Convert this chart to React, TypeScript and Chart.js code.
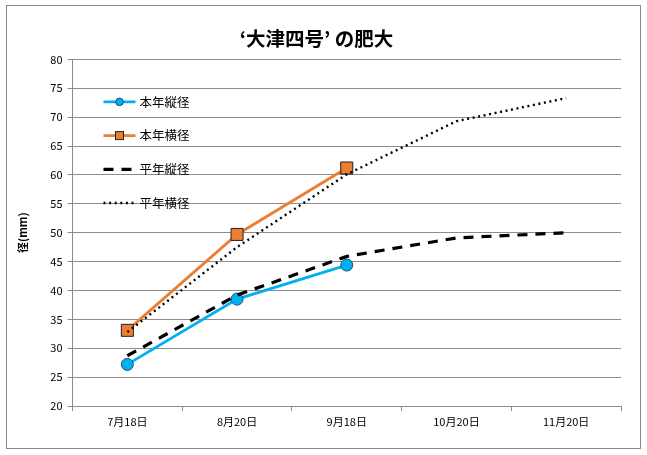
import React, { useEffect, useRef } from "react";
import { Chart, registerables } from "chart.js";

Chart.register(...registerables);

const categories = ["7月18日", "8月20日", "9月18日", "10月20日", "11月20日"];
const seriesNames = ["本年縦径", "本年横径", "平年縦径", "平年横径"];
const honenTate = [27.2, 38.5, 44.4, null, null];
const honenYoko = [33.1, 49.7, 61.2, null, null];
const heinenTate = [28.7, 39.2, 45.9, 49.1, 50.0];
const heinenYoko = [32.8, 47.5, 60.1, 69.3, 73.3];
const yTicks = [20, 25, 30, 35, 40, 45, 50, 55, 60, 65, 70, 75, 80];
const chartTitle = "‘大津四号’ の肥大";
const yTitle = "径(mm)";

const FONT = "'Noto Sans CJK JP', 'Noto Sans', sans-serif";

const insideLegend = {
  id: "insideLegend",
  afterDraw(chart: any) {
    const { ctx, chartArea } = chart;
    const x0 = chartArea.left + 31;
    const y0 = chartArea.top + 42.5;
    const step = 33.7;
    chart.data.datasets.forEach((ds: any, i: number) => {
      const y = y0 + i * step;
      ctx.save();
      ctx.strokeStyle = ds.borderColor;
      ctx.lineWidth = ds.borderWidth;
      ctx.setLineDash(ds.borderDash || []);
      ctx.beginPath();
      ctx.moveTo(x0, y);
      ctx.lineTo(x0 + 32, y);
      ctx.stroke();
      ctx.setLineDash([]);
      const cx = x0 + 16;
      if (ds.pointStyle === "circle" && ds.pointRadius > 0) {
        ctx.beginPath();
        ctx.arc(cx, y, 3.8, 0, Math.PI * 2);
        ctx.fillStyle = ds.pointBackgroundColor;
        ctx.fill();
        ctx.lineWidth = 1;
        ctx.strokeStyle = ds.pointBorderColor;
        ctx.stroke();
      } else if (ds.pointStyle === "rect" && ds.pointRadius > 0) {
        ctx.fillStyle = ds.pointBackgroundColor;
        ctx.fillRect(cx - 4, y - 4, 8, 8);
        ctx.lineWidth = 1;
        ctx.strokeStyle = ds.pointBorderColor;
        ctx.strokeRect(cx - 4, y - 4, 8, 8);
      }
      ctx.fillStyle = "#000";
      ctx.font = `12.5px ${FONT}`;
      ctx.textBaseline = "middle";
      ctx.textAlign = "left";
      ctx.fillText(ds.label, x0 + 36, y);
      ctx.restore();
    });
  },
};

export default function App() {
  const ref = useRef<HTMLCanvasElement>(null);
  useEffect(() => {
    if (!ref.current) return;
    const chart = new Chart(ref.current, {
      type: "line",
      data: {
        labels: categories,
        datasets: [
          {
            label: seriesNames[0],
            data: honenTate,
            borderColor: "#00B0F0",
            backgroundColor: "#00B0F0",
            borderWidth: 2.8,
            pointStyle: "circle",
            pointRadius: 6,
            pointBackgroundColor: "#00B0F0",
            pointBorderColor: "#1F4E79",
            pointBorderWidth: 1,
            tension: 0,
            order: 1,
          },
          {
            label: seriesNames[1],
            data: honenYoko,
            borderColor: "#ED7D31",
            backgroundColor: "#ED7D31",
            borderWidth: 2.8,
            pointStyle: "rect",
            pointRadius: 8.5,
            pointBackgroundColor: "#ED7D31",
            pointBorderColor: "#222",
            pointBorderWidth: 1,
            tension: 0,
            order: 1,
          },
          {
            label: seriesNames[2],
            data: heinenTate,
            borderColor: "#000",
            backgroundColor: "#000",
            borderWidth: 3.2,
            borderDash: [10, 8],
            pointRadius: 0,
            tension: 0,
            order: 0,
          },
          {
            label: seriesNames[3],
            data: heinenYoko,
            borderColor: "#000",
            backgroundColor: "#000",
            borderWidth: 2.4,
            borderDash: [2, 3.6],
            pointRadius: 0,
            tension: 0,
            order: 0,
          },
        ] as any,
      },
      options: {
        animation: false,
        responsive: false,
        spanGaps: false,
        layout: { padding: { left: 12, right: 26, top: 0, bottom: 19 } },
        plugins: {
          legend: { display: false },
          tooltip: { enabled: false },
          title: {
            display: true,
            text: chartTitle,
            color: "#000",
            font: { family: FONT, size: 19.5, weight: "bold" },
            padding: { top: 27, bottom: 9 },
          },
        },
        scales: {
          x: {
            offset: true,
            grid: {
              offset: true,
              drawOnChartArea: false,
              drawTicks: true,
              tickLength: 5,
              color: "#8c8c8c",
            },
            border: { color: "#8c8c8c", width: 1 },
            ticks: {
              color: "#000",
              font: { family: FONT, size: 11 },
              padding: 4,
              maxRotation: 0,
            },
            afterFit: (s: any) => {
              s.height = 30;
            },
          },
          y: {
            min: 20,
            max: 80,
            afterBuildTicks: (s: any) => {
              s.ticks = yTicks.map((v) => ({ value: v }));
            },
            grid: {
              color: "#8c8c8c",
              tickLength: 5,
              drawTicks: true,
            },
            border: { color: "#8c8c8c", width: 1 },
            ticks: {
              color: "#000",
              font: { family: FONT, size: 11 },
              padding: 5,
            },
            title: {
              display: true,
              text: yTitle,
              color: "#000",
              font: { family: FONT, size: 11, weight: "bold" },
              padding: { top: 4, bottom: 0 },
            },
            afterFit: (s: any) => {
              s.width = 60.5;
            },
          },
        },
      },
      plugins: [insideLegend],
    });
    return () => chart.destroy();
  }, []);
  return (
    <div style={{ position: "absolute", left: 0, top: 0, width: 647, height: 455, background: "#fff" }}>
      <div
        style={{
          position: "absolute",
          left: 6,
          top: 5,
          width: 635,
          height: 444,
          border: "1px solid #8a8a8a",
          boxSizing: "border-box",
        }}
      />
      <canvas ref={ref} width={647} height={455} style={{ position: "absolute", left: 0, top: 0 }} />
    </div>
  );
}
